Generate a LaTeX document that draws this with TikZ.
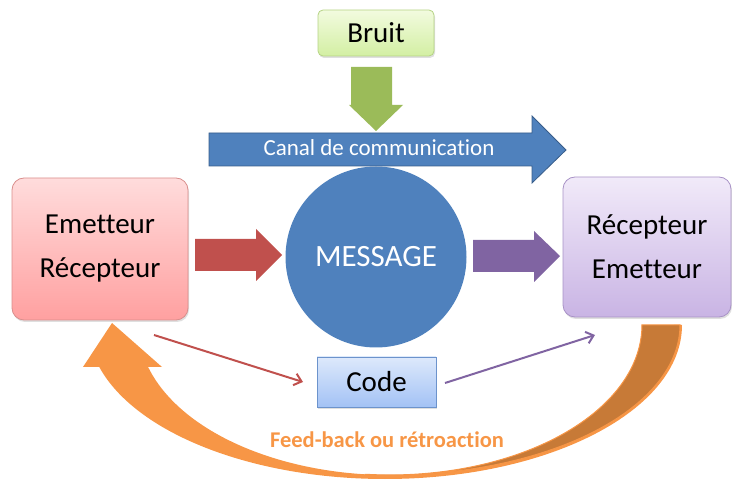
\documentclass[tikz,border=0pt]{standalone}
\usepackage{fontspec}
\setmainfont{Carlito}[Ligatures={NoCommon}]
\usetikzlibrary{shadows,arrows.meta}
\definecolor{oblue}{HTML}{4F81BD}
\definecolor{oblueline}{HTML}{385D8A}
\definecolor{ored}{HTML}{C0504D}
\definecolor{opurple}{HTML}{8064A2}
\definecolor{ogreen}{HTML}{9BBB59}
\definecolor{oorange}{HTML}{F79646}
\definecolor{odark}{HTML}{C77A37}
\definecolor{redtop}{HTML}{FFDCDC}
\definecolor{redbot}{HTML}{FFA0A0}
\definecolor{redline}{HTML}{D98E8C}
\definecolor{purtop}{HTML}{F1EAF9}
\definecolor{purbot}{HTML}{C9B4E4}
\definecolor{purline}{HTML}{A892C6}
\definecolor{grntop}{HTML}{F2FBDF}
\definecolor{grnbot}{HTML}{D3EFA3}
\definecolor{grnline}{HTML}{B5D384}
\definecolor{blutop}{HTML}{DDE9FB}
\definecolor{blubot}{HTML}{A3C2F5}
\definecolor{bluline}{HTML}{6C93CC}
\tikzset{
  shadowed/.style={drop shadow={opacity=0.25,shadow xshift=1pt,shadow yshift=-2pt}},
  boxtext/.style={font=\fontsize{29}{44}\selectfont, align=center, text=black, inner sep=0pt},
  thinarrow/.style={line width=2pt, -{Straight Barb[length=7pt,width=12pt,line width=2pt]}},
}
\begin{document}
\begin{tikzpicture}[x=1pt,y=1pt]
\useasboundingbox (0,0) rectangle (732,-481);
% feedback arrow
\fill[oorange] (682,-325) arc[start angle=0,end angle=-164.2,x radius=297pt,y radius=154pt]
  -- (83,-367) -- (112,-323) -- (162,-367) -- (148.1,-367)
  arc[start angle=-163.74,end angle=0,x radius=252pt,y radius=150pt] -- cycle;
\filldraw[fill=odark,draw=oorange,line width=1pt] (680,-325) arc[start angle=0,end angle=-95,x radius=290pt,y radius=150pt]
  -- (368.0,-474.4) arc[start angle=-95,end angle=0,x radius=252pt,y radius=150pt] -- cycle;
\node[font=\fontsize{22.5}{27}\selectfont\bfseries, text=oorange, anchor=base] (fb) at (387,-448) {Feed-back ou rétroaction};
% boxes
\node[shadowed, rounded corners=12pt, top color=redtop, bottom color=redbot, draw=redline, line width=0.8pt,
  minimum width=176pt, minimum height=142pt, boxtext] (em) at (100,-249) {Emetteur\\Récepteur};
\node[shadowed, rounded corners=12pt, top color=purtop, bottom color=purbot, draw=purline, line width=0.8pt,
  minimum width=168pt, minimum height=140pt, boxtext] (re) at (647,-247) {Récepteur\\Emetteur};
\node[shadowed, rounded corners=5pt, top color=grntop, bottom color=grnbot, draw=grnline, line width=0.8pt,
  minimum width=116pt, minimum height=46pt, boxtext] (br) at (376,-33) {Bruit};
\node[shadowed, top color=blutop, bottom color=blubot, draw=bluline, line width=0.8pt,
  minimum width=119pt, minimum height=50pt, boxtext] (co) at (376.5,-382) {Code};
% message circle
\node[circle, fill=oblue, minimum size=181pt, inner sep=0pt, text=white, font=\fontsize{31}{36}\selectfont] (msg) at (376,-257) {MESSAGE};
% canal arrow
\filldraw[fill=oblue, draw=oblueline, line width=0.8pt] (209,-133) -- (532,-133) -- (532,-116) -- (566,-150)
  -- (532,-183) -- (532,-166) -- (209,-166) -- cycle;
\node[font=\fontsize{23}{27}\selectfont, text=white, anchor=base] (ca) at (379,-156) {Canal de communication};
% green arrow
\fill[ogreen] (351,-67) -- (392,-67) -- (392,-105) -- (403,-105) -- (376,-131) -- (349,-105) -- (351,-105) -- cycle;
% red block arrow
\fill[ored] (195,-239) -- (256,-239) -- (256,-229) -- (282,-255) -- (256,-281) -- (256,-271) -- (195,-271) -- cycle;
% purple block arrow
\fill[opurple] (473,-240) -- (534,-240) -- (534,-231) -- (560,-256) -- (534,-282) -- (534,-272) -- (473,-272) -- cycle;
% thin arrows
\coordinate (r1) at (154,-335);
\coordinate (r2) at (303,-382);
\coordinate (p1) at (445,-383);
\coordinate (p2) at (595,-335);
\draw[thinarrow, ored] (r1) -- (r2);
\draw[thinarrow, opurple] (p1) -- (p2);
\end{tikzpicture}
\end{document}
